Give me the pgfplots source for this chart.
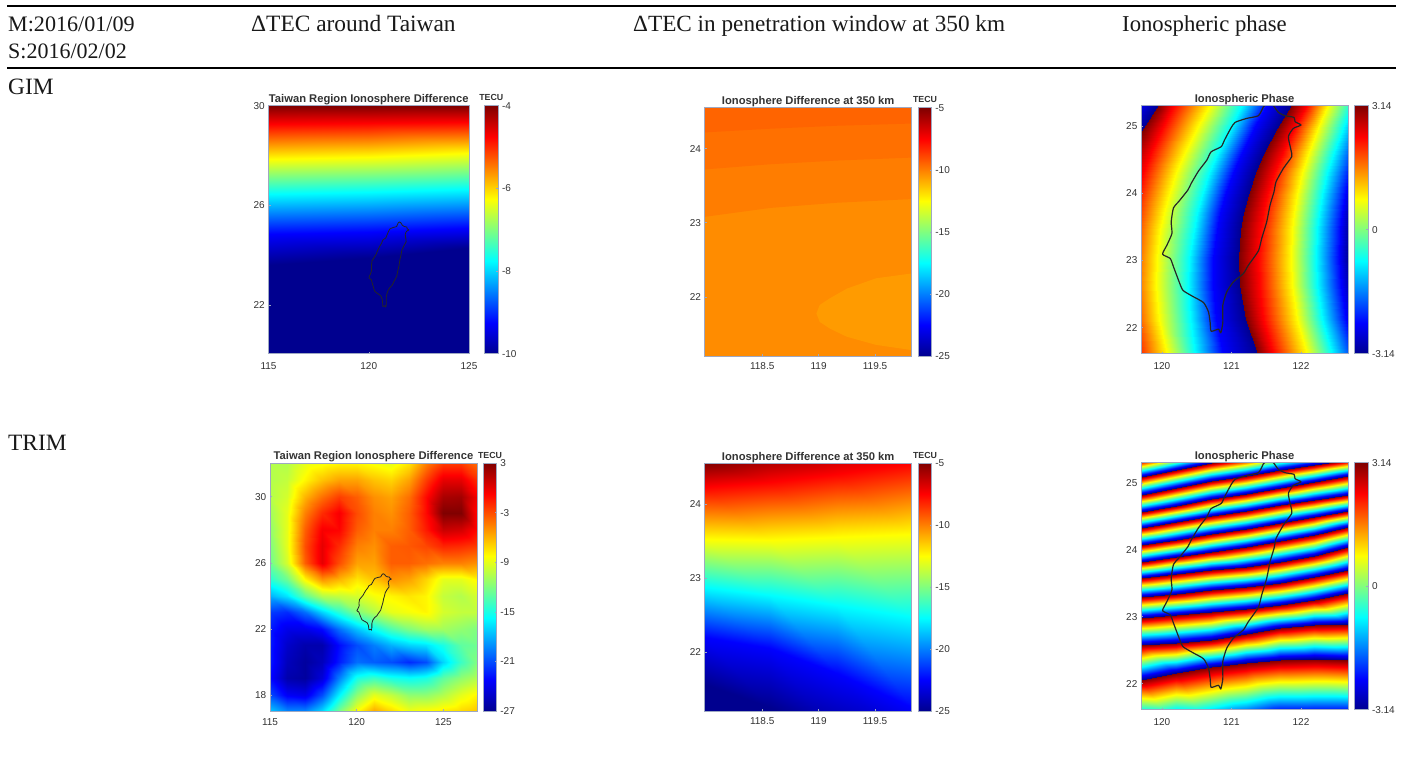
\documentclass[border=0pt]{standalone}
\usepackage{fontspec}
\setmainfont{Liberation Serif}
\newfontfamily\ar{Liberation Sans}
\usepackage{pgfplots}
\pgfplotsset{compat=1.18}
\usepackage{pgfplotstable}
\definecolor{framecol}{rgb}{0.62,0.66,0.76}
\definecolor{txt}{rgb}{0.2,0.2,0.2}
\definecolor{bA}{RGB}{255,100,0}
\definecolor{bB}{RGB}{255,112,0}
\definecolor{bC}{RGB}{255,125,0}
\definecolor{bD}{RGB}{255,140,0}
\definecolor{bE}{RGB}{255,155,0}
\pgfplotsset{
  colormap={myjet}{rgb255(0)=(0,0,143) rgb255(1)=(0,0,255) rgb255(3)=(0,255,255) rgb255(5)=(255,255,0) rgb255(7)=(255,0,0) rgb255(8)=(128,0,0)},
  every axis title shift=0pt,
  base/.style={scale only axis, axis on top, colormap name=myjet, anchor=south west,
    tick align=inside, major tick length=2pt, xtick pos=bottom, ytick pos=left,
    axis line style={framecol,line width=0.7pt}, tick style={framecol,line width=0.5pt},
    tick label style={font=\ar\fontsize{10}{11}\selectfont,text=txt},
    xticklabel style={inner sep=0pt,yshift=-6pt},
    yticklabel style={inner sep=0pt,xshift=-3.5pt},
    title style={font=\ar\bfseries\fontsize{11.2}{12}\selectfont,text=txt,at={(0.5,1)},anchor=base,yshift=3.2pt,inner sep=0pt},
  },
  sf/.style={surf,shader=interp,point meta=explicit},
  coast/.style={black!85,line width=#1,smooth,tension=0.35,line join=round},
}
\newcommand\cbar[9]{%
\begin{axis}[base,at={(#1pt,-#3pt)},width=#2pt,height=#4pt,xmin=0,xmax=1,ymin=#5,ymax=#6,
  point meta min=#5,point meta max=#6,xtick=\empty,ytick={#7},yticklabels={#8},
  ytick pos=right,yticklabel pos=right,
  yticklabel style={inner sep=0pt,xshift=7pt},
  title={#9},title style={font=\ar\bfseries\fontsize{8.8}{10}\selectfont,yshift=1.8pt}]
\addplot[sf,mesh/cols=2] coordinates {(0,#5)[#5] (1,#5)[#5] (0,#6)[#6] (1,#6)[#6]};
\end{axis}}
% phase jump lines of the TRIM phase panel: latitude at seven longitudes, meta value as argument
\def\lnz#1{(119.70,21.339)[#1] (120.205,21.309)[#1] (120.71,21.279)[#1] (121.205,21.384)[#1] (121.70,21.488)[#1] (122.19,21.488)[#1] (122.68,21.488)[#1]}
\def\lna#1{(119.70,22.055)[#1] (120.205,22.163)[#1] (120.71,22.249)[#1] (121.205,22.313)[#1] (121.70,22.353)[#1] (122.19,22.367)[#1] (122.68,22.353)[#1]}
\def\lnb#1{(119.70,22.577)[#1] (120.205,22.601)[#1] (120.71,22.652)[#1] (121.205,22.742)[#1] (121.70,22.831)[#1] (122.19,22.876)[#1] (122.68,22.891)[#1]}
\def\lnc#1{(119.70,22.980)[#1] (120.205,23.024)[#1] (120.71,23.070)[#1] (121.205,23.116)[#1] (121.70,23.175)[#1] (122.19,23.255)[#1] (122.68,23.353)[#1]}
\def\lnd#1{(119.70,23.294)[#1] (120.205,23.346)[#1] (120.71,23.398)[#1] (121.205,23.445)[#1] (121.70,23.503)[#1] (122.19,23.588)[#1] (122.68,23.697)[#1]}
\def\lne#1{(119.70,23.577)[#1] (120.205,23.637)[#1] (120.71,23.697)[#1] (121.205,23.750)[#1] (121.70,23.816)[#1] (122.19,23.915)[#1] (122.68,24.040)[#1]}
\def\lnf#1{(119.70,23.816)[#1] (120.205,23.889)[#1] (120.71,23.965)[#1] (121.205,24.043)[#1] (121.70,24.130)[#1] (122.19,24.228)[#1] (122.68,24.338)[#1]}
\def\lng#1{(119.70,24.070)[#1] (120.205,24.152)[#1] (120.71,24.234)[#1] (121.205,24.315)[#1] (121.70,24.398)[#1] (122.19,24.486)[#1] (122.68,24.577)[#1]}
\def\lnh#1{(119.70,24.323)[#1] (120.205,24.415)[#1] (120.71,24.503)[#1] (121.205,24.586)[#1] (121.70,24.667)[#1] (122.19,24.743)[#1] (122.68,24.816)[#1]}
\def\lni#1{(119.70,24.562)[#1] (120.205,24.662)[#1] (120.71,24.756)[#1] (121.205,24.840)[#1] (121.70,24.921)[#1] (122.19,25.009)[#1] (122.68,25.100)[#1]}
\def\lnj#1{(119.70,24.816)[#1] (120.205,24.927)[#1] (120.71,25.025)[#1] (121.205,25.110)[#1] (121.70,25.189)[#1] (122.19,25.265)[#1] (122.68,25.339)[#1]}
\def\lnk#1{(119.70,25.085)[#1] (120.205,25.195)[#1] (120.71,25.294)[#1] (121.205,25.379)[#1] (121.70,25.458)[#1] (122.19,25.540)[#1] (122.68,25.622)[#1]}
\def\lnl#1{(119.70,25.339)[#1] (120.205,25.449)[#1] (120.71,25.547)[#1] (121.205,25.633)[#1] (121.70,25.712)[#1] (122.19,25.794)[#1] (122.68,25.876)[#1]}
\newcommand\stripe[2]{\edef\tmp{\noexpand\addplot[sf,mesh/cols=7] coordinates {#1{-3.14} #2{3.14}};}\tmp}
\pgfplotstableread{
lon lat
121.459 25.288
121.388 25.154
121.220 25.114
121.053 25.055
120.990 24.965
120.900 24.791
120.852 24.692
120.708 24.617
120.646 24.493
120.526 24.329
120.421 24.145
120.373 24.046
120.239 23.872
120.167 23.783
120.134 23.574
120.144 23.400
120.072 23.226
120.010 23.092
120.120 23.028
120.167 22.904
120.239 22.705
120.301 22.556
120.431 22.471
120.598 22.372
120.670 22.233
120.694 22.074
120.708 21.945
120.813 21.975
120.847 21.920
120.876 22.074
120.876 22.332
120.933 22.531
121.029 22.680
121.172 22.804
121.244 22.928
121.388 23.142
121.435 23.326
121.507 23.574
121.555 23.823
121.612 24.021
121.641 24.170
121.746 24.369
121.866 24.543
121.856 24.642
121.818 24.841
121.890 24.965
122.000 25.015
121.914 25.065
121.900 25.129
121.770 25.154
121.675 25.204
121.603 25.303
121.531 25.338
121.459 25.288
}\twn
\begin{document}
\begin{tikzpicture}
\fill[white] (0,0) rectangle (1408pt,-771pt);
% table rules and text
\draw[line width=2pt] (7pt,-5.5pt) -- (1396pt,-5.5pt);
\draw[line width=2pt] (7pt,-68pt) -- (1396pt,-68pt);
\begin{scope}[every node/.style={anchor=base west,inner sep=0pt,text=black!90}]
\node[font=\fontsize{22.1}{26}\selectfont] at (8pt,-31pt) {M:2016/01/09};
\node[font=\fontsize{22.0}{26}\selectfont] at (8pt,-58pt) {S:2016/02/02};
\node[font=\fontsize{23.4}{26}\selectfont] at (251pt,-31pt) {ΔTEC around Taiwan};
\node[font=\fontsize{23.2}{26}\selectfont] at (633pt,-31pt) {ΔTEC in penetration window at 350 km};
\node[font=\fontsize{22.7}{26}\selectfont] at (1122pt,-31pt) {Ionospheric phase};
\node[font=\fontsize{23.4}{26}\selectfont] at (8pt,-94pt) {GIM};
\node[font=\fontsize{23.4}{26}\selectfont] at (8pt,-450pt) {TRIM};
\end{scope}
% Panel 1
\begin{axis}[base,at={(268.5pt,-353.7pt)},width=200.5pt,height=248pt,xmin=115,xmax=125,ymin=20.05,ymax=30,
 point meta min=-10,point meta max=-4,xtick={115,120,125},xticklabels={115,120,125},ytick={22,26,30},yticklabels={22,26,30},
 xticklabel style={yshift=-2.7pt},
 title={Taiwan Region Ionosphere Difference}]
\addplot[sf,mesh/cols=3] coordinates {
(115,20)[-10] (120,20)[-10] (125,20)[-10]
(115,23.6)[-10] (120,23.9)[-10] (125,24.3)[-10]
(115,24.85)[-9.25] (120,24.95)[-9.25] (125,25.1)[-9.25]
(115,26.45)[-7.75] (120,26.55)[-7.75] (125,26.65)[-7.75]
(115,27.85)[-6.25] (120,27.95)[-6.25] (125,28.1)[-6.25]
(115,29.25)[-4.75] (120,29.3)[-4.75] (125,29.35)[-4.75]
(115,30)[-4] (120,30)[-4] (125,30)[-4]};
\addplot[coast=0.8pt] table[x=lon,y=lat] {\twn};
\end{axis}
\cbar{484.3}{14}{353.7}{248}{-10}{-4}{-10,-8,-6,-4}{-10,-8,-6,-4}{TECU}
% Panel 2
\begin{axis}[base,at={(704.7pt,-356pt)},width=207pt,height=248.3pt,xmin=117.99,xmax=119.825,ymin=21.2,ymax=24.554,
 xtick={118.5,119,119.5},xticklabels={118.5,119,119.5},ytick={22,23,24},yticklabels={22,23,24},
 xticklabel style={yshift=-0.7pt},
 title={Ionosphere Difference at 350 km}]
\addplot[draw=none,fill=bD] coordinates {(117.99,21.2) (119.825,21.2) (119.825,24.554) (117.99,24.554)} --cycle;
\addplot[draw=none,fill=bC] coordinates {(117.99,23.08) (118.57,23.20) (119.16,23.27) (119.825,23.32) (119.825,24.554) (117.99,24.554)} --cycle;
\addplot[draw=none,fill=bB] coordinates {(117.99,23.72) (118.57,23.79) (119.16,23.84) (119.825,23.88) (119.825,24.554) (117.99,24.554)} --cycle;
\addplot[draw=none,fill=bA] coordinates {(117.99,24.22) (118.57,24.27) (119.16,24.31) (119.825,24.34) (119.825,24.554) (117.99,24.554)} --cycle;
\addplot[draw=none,fill=bE] coordinates {(119.825,22.315) (119.51,22.25) (119.25,22.11) (119.10,21.98) (119.01,21.89) (118.98,21.775) (119.01,21.66) (119.10,21.57) (119.25,21.46) (119.51,21.35) (119.825,21.28)} --cycle;
\end{axis}
\cbar{918.3}{13.4}{356}{248.3}{-25}{-5}{-25,-20,-15,-10,-5}{-25,-20,-15,-10,-5}{TECU}
% Panel 3
\begin{axis}[base,at={(1141pt,-353.7pt)},width=207.3pt,height=248pt,xmin=119.70,xmax=122.68,ymin=21.61,ymax=25.303,
 point meta min=-3.14,point meta max=3.14,xtick={120,121,122},xticklabels={120,121,122},ytick={22,23,24,25},yticklabels={22,23,24,25},
 xticklabel style={yshift=-2.7pt},
 title={Ionospheric Phase}]
\addplot[sf,mesh/cols=2] coordinates {(119.0,24.617)[-2] (119.543,24.617)[-3.14] (119.24,24.965)[-2] (119.743,24.965)[-3.14] (119.5,25.31)[-2] (119.962,25.31)[-3.14]};
\addplot[sf,mesh/cols=6] coordinates {
(119.211,21.6)[3.14] (119.617,21.6)[2.356] (120.072,21.6)[0.785] (120.478,21.6)[-0.785] (120.885,21.6)[-2.356] (121.378,21.6)[-3.14]
(119.086,22.134)[3.14] (119.513,22.134)[2.356] (119.960,22.134)[0.785] (120.398,22.134)[-0.785] (120.773,22.134)[-2.356] (121.209,22.134)[-3.14]
(119.041,22.630)[3.14] (119.473,22.630)[2.356] (119.918,22.630)[0.785] (120.377,22.630)[-0.785] (120.732,22.630)[-2.356] (121.125,22.630)[-3.14]
(119.054,23.028)[3.14] (119.478,23.028)[2.356] (119.927,23.028)[0.785] (120.397,23.028)[-0.785] (120.740,23.028)[-2.356] (121.108,23.028)[-3.14]
(119.115,23.445)[3.14] (119.522,23.445)[2.356] (119.976,23.445)[0.785] (120.455,23.445)[-0.785] (120.789,23.445)[-2.356] (121.139,23.445)[-3.14]
(119.178,23.708)[3.14] (119.568,23.708)[2.356] (120.029,23.708)[0.785] (120.510,23.708)[-0.785] (120.842,23.708)[-2.356] (121.183,23.708)[-3.14]
(119.260,23.972)[3.14] (119.630,23.972)[2.356] (120.098,23.972)[0.785] (120.579,23.972)[-0.785] (120.912,23.972)[-2.356] (121.247,23.972)[-3.14]
(119.387,24.295)[3.14] (119.726,24.295)[2.356] (120.205,24.295)[0.785] (120.684,24.295)[-0.785] (121.018,24.295)[-2.356] (121.353,24.295)[-3.14]
(119.543,24.617)[3.14] (119.845,24.617)[2.356] (120.337,24.617)[0.785] (120.811,24.617)[-0.785] (121.151,24.617)[-2.356] (121.488,24.617)[-3.14]
(119.743,24.965)[3.14] (119.999,24.965)[2.356] (120.507,24.965)[0.785] (120.973,24.965)[-0.785] (121.320,24.965)[-2.356] (121.666,24.965)[-3.14]
(119.962,25.31)[3.14] (120.168,25.31)[2.356] (120.694,25.31)[0.785] (121.148,25.31)[-0.785] (121.507,25.31)[-2.356] (121.866,25.31)[-3.14]};
\addplot[sf,mesh/cols=6] coordinates {
(121.378,21.6)[3.14] (121.603,21.6)[2.356] (122.081,21.6)[0.785] (122.440,21.6)[-0.785] (122.799,21.6)[-2.356] (123.038,21.6)[-3.14]
(121.209,22.134)[3.14] (121.459,22.134)[2.356] (121.943,22.134)[0.785] (122.302,22.134)[-0.785] (122.648,22.134)[-2.356] (122.838,22.134)[-3.14]
(121.125,22.630)[3.14] (121.390,22.630)[2.356] (121.869,22.630)[0.785] (122.228,22.630)[-0.785] (122.568,22.630)[-2.356] (122.727,22.630)[-3.14]
(121.108,23.028)[3.14] (121.379,23.028)[2.356] (121.850,23.028)[0.785] (122.209,23.028)[-0.785] (122.544,23.028)[-2.356] (122.691,23.028)[-3.14]
(121.139,23.445)[3.14] (121.411,23.445)[2.356] (121.866,23.445)[0.785] (122.225,23.445)[-0.785] (122.560,23.445)[-2.356] (122.703,23.445)[-3.14]
(121.183,23.708)[3.14] (121.455,23.708)[2.356] (121.896,23.708)[0.785] (122.255,23.708)[-0.785] (122.589,23.708)[-2.356] (122.737,23.708)[-3.14]
(121.247,23.972)[3.14] (121.514,23.972)[2.356] (121.940,23.972)[0.785] (122.299,23.972)[-0.785] (122.636,23.972)[-2.356] (122.792,23.972)[-3.14]
(121.353,24.295)[3.14] (121.612,24.295)[2.356] (122.016,24.295)[0.785] (122.375,24.295)[-0.785] (122.715,24.295)[-2.356] (122.887,24.295)[-3.14]
(121.488,24.617)[3.14] (121.737,24.617)[2.356] (122.114,24.617)[0.785] (122.473,24.617)[-0.785] (122.817,24.617)[-2.356] (123.012,24.617)[-3.14]
(121.666,24.965)[3.14] (121.900,24.965)[2.356] (122.245,24.965)[0.785] (122.604,24.965)[-0.785] (122.955,24.965)[-2.356] (123.181,24.965)[-3.14]
(121.866,25.31)[3.14] (122.081,25.31)[2.356] (122.392,25.31)[0.785] (122.751,25.31)[-0.785] (123.110,25.31)[-2.356] (123.373,25.31)[-3.14]};
\addplot[coast=1.2pt] table[x=lon,y=lat] {\twn};
\end{axis}
\cbar{1354.7}{13.6}{353.7}{248}{-3.14}{3.14}{-3.14,0,3.14}{-3.14,0,3.14}{}
% Panel 4
\begin{axis}[base,at={(270pt,-711pt)},width=207pt,height=248pt,xmin=115,xmax=126.94,ymin=17.03,ymax=32.04,
 point meta min=-27,point meta max=3,xtick={115,120,125},xticklabels={115,120,125},ytick={18,22,26,30},yticklabels={18,22,26,30},
 xticklabel style={yshift=-1.7pt},
 title={Taiwan Region Ionosphere Difference}]
\addplot[sf,mesh/cols=13] coordinates {
(115,17)[-17] (116,17)[-19] (117,17)[-19] (118,17)[-16.5] (119,17)[-12] (120,17)[-8] (121,17)[-5.5] (122,17)[-7] (123,17)[-8.5] (124,17)[-8] (125,17)[-7.5] (126,17)[-7] (126.94,17)[-6.5]
(115,18)[-21] (116,18)[-23.5] (117,18)[-24] (118,18)[-21] (119,18)[-16] (120,18)[-11.5] (121,18)[-9] (122,18)[-10] (123,18)[-11.5] (124,18)[-11.5] (125,18)[-10.5] (126,18)[-9] (126.94,18)[-8]
(115,19)[-23] (116,19)[-26] (117,19)[-26.5] (118,19)[-24.5] (119,19)[-19.5] (120,19)[-15] (121,19)[-14] (122,19)[-15] (123,19)[-15.5] (124,19)[-15] (125,19)[-13] (126,19)[-11.5] (126.94,19)[-10.5]
(115,20)[-22.5] (116,20)[-25.5] (117,20)[-26.5] (118,20)[-25.5] (119,20)[-22.5] (120,20)[-20] (121,20)[-20.5] (122,20)[-21] (123,20)[-22] (124,20)[-21] (125,20)[-17] (126,20)[-14] (126.94,20)[-12]
(115,21)[-22.5] (116,21)[-25] (117,21)[-26] (118,21)[-26] (119,21)[-23] (120,21)[-21] (121,21)[-19.5] (122,21)[-18] (123,21)[-17] (124,21)[-16.5] (125,21)[-15] (126,21)[-13] (126.94,21)[-12.5]
(115,22)[-22.5] (116,22)[-24] (117,22)[-24] (118,22)[-23] (119,22)[-20] (120,22)[-17.5] (121,22)[-15.5] (122,22)[-13.5] (123,22)[-12] (124,22)[-11] (125,22)[-11] (126,22)[-11.5] (126.94,22)[-12]
(115,23)[-21.5] (116,23)[-22] (117,23)[-20] (118,23)[-17] (119,23)[-14.5] (120,23)[-12] (121,23)[-10.5] (122,23)[-9] (123,23)[-8.5] (124,23)[-8] (125,23)[-9.5] (126,23)[-10] (126.94,23)[-10]
(115,24)[-18] (116,24)[-16.5] (117,24)[-13] (118,24)[-10.5] (119,24)[-10] (120,24)[-9.5] (121,24)[-8.5] (122,24)[-8] (123,24)[-7.5] (124,24)[-8] (125,24)[-10] (126,24)[-10.5] (126.94,24)[-9.5]
(115,25)[-14.5] (116,25)[-12.5] (117,25)[-8] (118,25)[-5] (119,25)[-6] (120,25)[-7.5] (121,25)[-6.5] (122,25)[-5] (123,25)[-5.5] (124,25)[-7] (125,25)[-9] (126,25)[-9] (126.94,25)[-8]
(115,26)[-12.5] (116,26)[-9.5] (117,26)[-3.5] (118,26)[0] (119,26)[-3] (120,26)[-5.5] (121,26)[-5.5] (122,26)[-3.5] (123,26)[-3.5] (124,26)[-4] (125,26)[-4.5] (126,26)[-4.5] (126.94,26)[-5]
(115,27)[-12] (116,27)[-9] (117,27)[-3] (118,27)[0] (119,27)[-2] (120,27)[-4.5] (121,27)[-5] (122,27)[-3.5] (123,27)[-3.3] (124,27)[-2.8] (125,27)[-1.8] (126,27)[-2] (126.94,27)[-2.5]
(115,28)[-11.5] (116,28)[-9] (117,28)[-3.5] (118,28)[-0.5] (119,28)[-0.8] (120,28)[-3.5] (121,28)[-4.5] (122,28)[-4.5] (123,28)[-3.5] (124,28)[-1.5] (125,28)[0.8] (126,28)[0.5] (126.94,28)[-1]
(115,29)[-11] (116,29)[-9] (117,29)[-4.5] (118,29)[-2] (119,29)[-0.5] (120,29)[-3] (121,29)[-4.5] (122,29)[-5] (123,29)[-3.5] (124,29)[-1] (125,29)[3] (126,29)[3] (126.94,29)[-1]
(115,30)[-10.5] (116,30)[-9.5] (117,30)[-6] (118,30)[-4] (119,30)[-2.5] (120,30)[-3.5] (121,30)[-5] (122,30)[-5.5] (123,30)[-4] (124,30)[-1] (125,30)[1.8] (126,30)[2] (126.94,30)[-0.5]
(115,31)[-10.5] (116,31)[-10] (117,31)[-8] (118,31)[-6.5] (119,31)[-5.5] (120,31)[-5.5] (121,31)[-6.5] (122,31)[-7] (123,31)[-5.5] (124,31)[-2.5] (125,31)[0] (126,31)[0] (126.94,31)[-2]
(115,32.05)[-10.5] (116,32.05)[-10.5] (117,32.05)[-9] (118,32.05)[-8.5] (119,32.05)[-8] (120,32.05)[-8] (121,32.05)[-8.5] (122,32.05)[-9] (123,32.05)[-7.5] (124,32.05)[-4.5] (125,32.05)[-2.5] (126,32.05)[-2.5] (126.94,32.05)[-4]};
\addplot[coast=0.8pt] table[x=lon,y=lat] {\twn};
\end{axis}
\cbar{483.3}{13.4}{711}{248}{-27}{3}{-27,-21,-15,-9,-3,3}{-27,-21,-15,-9,-3,3}{TECU}
% Panel 5
\begin{axis}[base,at={(704.7pt,-711pt)},width=207pt,height=247.7pt,xmin=117.99,xmax=119.825,ymin=21.2,ymax=24.554,
 point meta min=-25,point meta max=-5,xtick={118.5,119,119.5},xticklabels={118.5,119,119.5},ytick={22,23,24},yticklabels={22,23,24},
 xticklabel style={yshift=-0.7pt},
 title={Ionosphere Difference at 350 km}]
\addplot[sf,mesh/cols=4] coordinates {
(117.98,20)[-25] (118.57,20)[-25] (119.16,20)[-25] (119.83,20)[-25]
(117.98,21.57)[-25] (118.57,21.26)[-25] (119.16,20.8)[-25] (119.83,20.45)[-25]
(117.98,22.20)[-22.5] (118.57,22.05)[-22.5] (119.16,21.71)[-22.5] (119.83,21.26)[-22.5]
(117.98,22.88)[-17.5] (118.57,22.77)[-17.5] (119.16,22.63)[-17.5] (119.83,22.47)[-17.5]
(117.98,23.53)[-12.5] (118.57,23.51)[-12.5] (119.16,23.55)[-12.5] (119.83,23.60)[-12.5]
(117.98,24.23)[-7.5] (118.57,24.297)[-7.5] (119.16,24.41)[-7.5] (119.83,24.554)[-7.5]
(117.98,24.56)[-5] (118.57,24.725)[-5] (119.16,24.905)[-5] (119.83,25.086)[-5]};
\end{axis}
\cbar{918.3}{13.4}{711}{247.7}{-25}{-5}{-25,-20,-15,-10,-5}{-25,-20,-15,-10,-5}{TECU}
% Panel 6
\begin{axis}[base,at={(1141pt,-709.7pt)},width=207.3pt,height=247pt,xmin=119.70,xmax=122.68,ymin=21.61,ymax=25.303,
 point meta min=-3.14,point meta max=3.14,xtick={120,121,122},xticklabels={120,121,122},ytick={22,23,24,25},yticklabels={22,23,24,25},
 xticklabel style={yshift=-2.7pt},
 title={Ionospheric Phase}]
\stripe{\lnz}{\lna}
\stripe{\lna}{\lnb}
\stripe{\lnb}{\lnc}
\stripe{\lnc}{\lnd}
\stripe{\lnd}{\lne}
\stripe{\lne}{\lnf}
\stripe{\lnf}{\lng}
\stripe{\lng}{\lnh}
\stripe{\lnh}{\lni}
\stripe{\lni}{\lnj}
\stripe{\lnj}{\lnk}
\stripe{\lnk}{\lnl}
\addplot[coast=1.2pt] table[x=lon,y=lat] {\twn};
\end{axis}
\cbar{1354.7}{13.6}{709.7}{247}{-3.14}{3.14}{-3.14,0,3.14}{-3.14,0,3.14}{}
\end{tikzpicture}
\end{document}
